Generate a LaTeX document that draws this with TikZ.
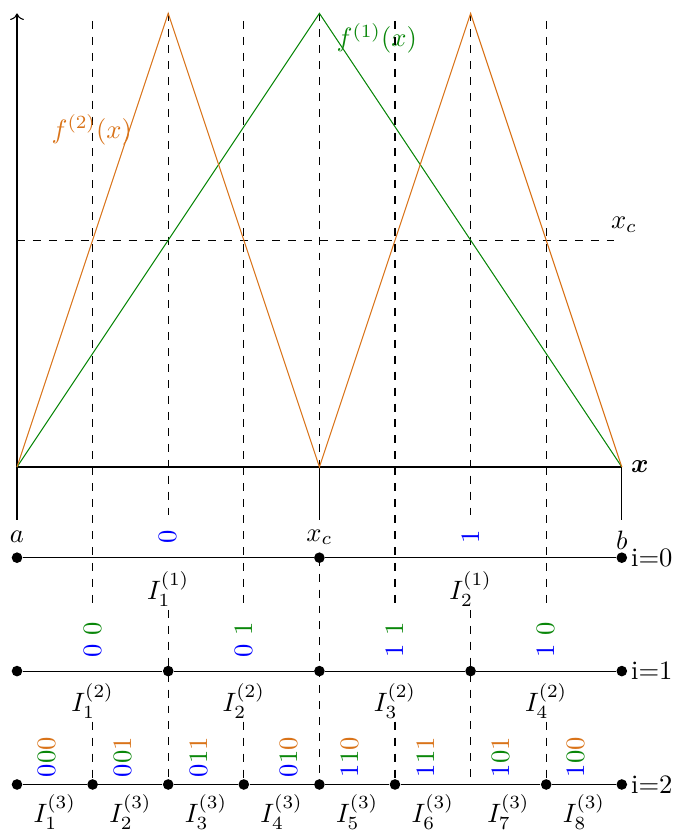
\documentclass[tikz,border=0pt]{standalone}
\usepackage{amsmath,bm}
\usetikzlibrary{arrows.meta}
\definecolor{fo}{RGB}{217,115,25}
\definecolor{fg}{RGB}{10,135,10}
\definecolor{fb}{RGB}{0,0,255}
\tikzset{guide/.style={dashed},
 dot/.style={circle,fill,inner sep=0pt,minimum size=4pt},
 bits/.style={rotate=90,inner sep=0pt},
 tick/.style={line width=.4pt}}
\begin{document}
\begin{tikzpicture}
\useasboundingbox (-0.225,-4.802) rectangle (8.691,6.177);
% axes and ticks
\draw[->] (0,-0.7)--(0,6);
\draw (0,0)--(8,0) node[right] (xl) {$\bm{x}$};
\draw[tick] (4,0)--(4,-0.7);\draw[tick] (8,0)--(8,-0.7);
\draw[guide] (0,3)--(7.9,3);
\node (xc) at (8.03,3.2) {$x_c$};
% guide lines
\foreach \x in {1,3,5,7} {\draw[guide] (\x,5.9)--(\x,-1.83);\draw[guide] (\x,-3.37)--(\x,-4.2);}
\foreach \x in {2,6} {\draw[guide] (\x,6)--(\x,-0.64);\draw[guide] (\x,-1.89)--(\x,-4.2);}
\draw[guide] (4,6)--(4,0);\draw[guide] (4,-1.2)--(4,-4.2);
% maps
\draw[fg] (0,0)--(4,6)--(8,0);
\draw[fo] (0,0)--(2,6)--(4,0)--(6,6)--(8,0);
\node[fo] (f2) at (0.99,4.46) {$f^{(2)}(x)$};
\node[fg] (f1) at (4.76,5.67) {$f^{(1)}(x)$};
% level i=0
\foreach \x in {0,4,8} \node[dot] (a\x) at (\x,-1.2) {};
\draw (a0)--(a4)--(a8);
\node (la) at (0,-0.92) {$a$};\node (lxc) at (4,-0.93) {$x_c$};\node (lb) at (8,-0.97) {$b$};
\node[bits,fb] (s0) at (2,-0.93) {0};\node[bits,fb] (s1) at (6,-0.93) {1};
\node (I11) at (2,-1.62) {$I_1^{(1)}$};\node (I12) at (6,-1.62) {$I_2^{(1)}$};
\node[right] (i0) at (8,-1.2) {i=0};
% level i=1
\foreach \x in {0,2,4,6,8} \node[dot] (b\x) at (\x,-2.7) {};
\draw (b0)--(b2)--(b4)--(b6)--(b8);
\foreach \x/\p/\q in {1/0/0,3/0/1,5/1/1,7/1/0}
  \node[bits] (t\x) at (\x,-2.29) {\textcolor{fb}{\p} \textcolor{fg}{\q}};
\foreach \k in {1,...,4} \node (I2\k) at ({2*\k-1},-3.1) {$I_{\k}^{(2)}$};
\node[right] (i1) at (8,-2.7) {i=1};
% level i=2
\foreach \x in {0,1,2,3,4,5,7,8} \node[dot] (c\x) at (\x,-4.2) {};
\draw (c0)--(c1)--(c2)--(c3)--(c4)--(c5)--(c7)--(c8);
\foreach \x/\p/\q/\r [count=\n] in {0.4/0/0/0,1.4/0/0/1,2.4/0/1/1,3.6/0/1/0,4.4/1/1/0,5.4/1/1/1,6.4/1/0/1,7.4/1/0/0}
  \node[bits] (u\n) at (\x,-3.84) {\textcolor{fb}{\p}\textcolor{fg}{\q}\textcolor{fo}{\r}};
\foreach \k in {1,...,8} \node (I3\k) at ({\k-0.5},-4.56) {$I_{\k}^{(3)}$};
\node[right] (i2) at (8,-4.2) {i=2};
\end{tikzpicture}
\end{document}
